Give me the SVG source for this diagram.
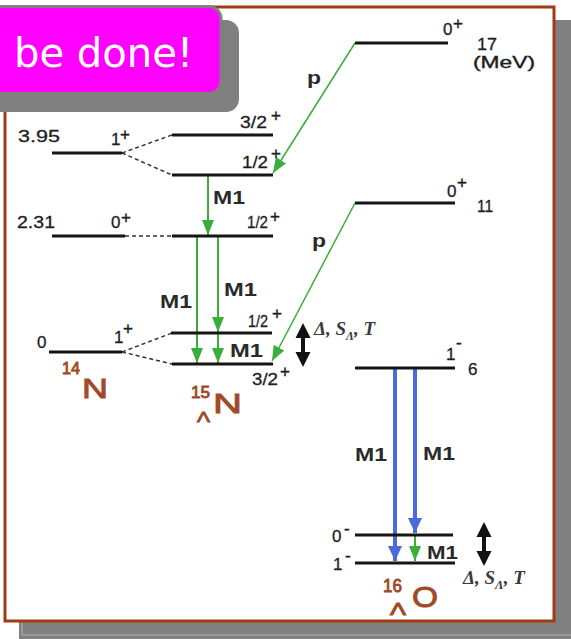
<svg xmlns="http://www.w3.org/2000/svg" width="571" height="639" viewBox="0 0 571 639">
<style>
.lv{stroke:#151515;stroke-width:3;fill:none}
.ds{stroke:#333;stroke-width:1.5;stroke-dasharray:4 3;fill:none}
.t{font-family:"Liberation Sans",Arial,sans-serif;font-size:17px;fill:#1e1e1e;stroke:#1e1e1e;stroke-width:0.3}
.sp{font-family:"Liberation Sans",Arial,sans-serif;font-size:17px;fill:#1e1e1e;stroke:#1e1e1e;stroke-width:0.4}
.m{font-family:"Liberation Sans",Arial,sans-serif;font-size:18px;font-weight:bold;fill:#2a2a2a}
.nuc{font-family:"Liberation Sans",Arial,sans-serif;fill:#a04a28;stroke:#a04a28;stroke-width:0.9}
.g{stroke:#3aad3a;stroke-width:2;fill:none}
.gp{stroke:#3aad3a;stroke-width:1.5;fill:none}
.b{stroke:#4b6bdc;stroke-width:4;fill:none}
.par{font-family:"Liberation Serif","Times New Roman",serif;font-style:italic;font-weight:bold;font-size:19px;fill:#3a3a3a}
</style>
<defs>
<marker id="ag" markerUnits="userSpaceOnUse" markerWidth="16" markerHeight="12" refX="15" refY="6" orient="auto">
<path d="M0,0 L15,6 L0,12 Z" fill="#3aad3a"/>
</marker>
<marker id="ab" markerUnits="userSpaceOnUse" markerWidth="16" markerHeight="14" refX="15" refY="7" orient="auto">
<path d="M0,0 L15,7 L0,14 Z" fill="#4b6bdc"/>
</marker>
<g id="dbl">
<path d="M0,0 L7.5,15 L-7.5,15 Z" fill="#111"/>
<rect x="-2" y="14" width="4" height="16" fill="#111"/>
<path d="M0,44 L7.5,29 L-7.5,29 Z" fill="#111"/>
</g>
</defs>

<!-- frame -->
<g id="frame">
<rect x="19" y="20" width="552" height="619" fill="#808080"/>
<polyline points="22,623 22,635 571,635" fill="none" stroke="#b4b4b4" stroke-width="1"/>
<rect x="5" y="7" width="549" height="614" fill="#ffffff" stroke="#a33b10" stroke-width="3"/>
</g>

<!-- connectors -->
<g id="connectors">
<line class="ds" x1="122" y1="153" x2="172" y2="135"/>
<line class="ds" x1="122" y1="153" x2="172" y2="175"/>
<line class="ds" x1="125" y1="236" x2="172" y2="236"/>
<line class="ds" x1="122" y1="352" x2="172" y2="333"/>
<line class="ds" x1="122" y1="352" x2="172" y2="364"/>
<line class="gp" x1="355" y1="43" x2="273" y2="173" marker-end="url(#ag)"/>
<line class="gp" x1="355" y1="203" x2="272" y2="361" marker-end="url(#ag)"/>
<line class="g" x1="208" y1="175" x2="208" y2="235" marker-end="url(#ag)"/>
<line class="g" x1="197" y1="236" x2="197" y2="363" marker-end="url(#ag)"/>
<line class="g" x1="218" y1="236" x2="218" y2="332" marker-end="url(#ag)"/>
<line class="g" x1="218" y1="334" x2="218" y2="363" marker-end="url(#ag)"/>
<line class="b" x1="395" y1="368" x2="395" y2="561" marker-end="url(#ab)"/>
<line class="b" x1="415" y1="368" x2="415" y2="533" marker-end="url(#ab)"/>
<line class="g" x1="415" y1="536" x2="415" y2="561" marker-end="url(#ag)"/>
<text class="m" x="213" y="204" textLength="32" lengthAdjust="spacingAndGlyphs">M1</text>
<text class="m" x="160" y="308" textLength="32" lengthAdjust="spacingAndGlyphs">M1</text>
<text class="m" x="224" y="296" textLength="33" lengthAdjust="spacingAndGlyphs">M1</text>
<text class="m" x="230" y="357" textLength="33" lengthAdjust="spacingAndGlyphs">M1</text>
<text class="m" x="355" y="461" textLength="32" lengthAdjust="spacingAndGlyphs">M1</text>
<text class="m" x="423" y="460" textLength="32" lengthAdjust="spacingAndGlyphs">M1</text>
<text class="m" x="427" y="559" textLength="31" lengthAdjust="spacingAndGlyphs">M1</text>
<text class="m" x="307" y="84" font-size="22" textLength="14" lengthAdjust="spacingAndGlyphs">p</text>
<text class="m" x="312" y="247" font-size="22" textLength="14" lengthAdjust="spacingAndGlyphs">p</text>
</g>

<!-- 14N -->
<g id="n14">
<line class="lv" x1="52" y1="153" x2="122" y2="153"/>
<line class="lv" x1="52" y1="236" x2="125" y2="236"/>
<line class="lv" x1="49" y1="352" x2="122" y2="352"/>
<text class="t" x="18" y="142" textLength="42" lengthAdjust="spacingAndGlyphs">3.95</text>
<text class="t" x="111" y="145">1</text><text class="sp" x="120" y="140">+</text>
<text class="t" x="17" y="228" textLength="38" lengthAdjust="spacingAndGlyphs">2.31</text>
<text class="t" x="111" y="228">0</text><text class="sp" x="121" y="223">+</text>
<text class="t" x="37" y="348">0</text>
<text class="t" x="114" y="343">1</text><text class="sp" x="123" y="334">+</text>
<text class="nuc" x="62" y="374" font-size="17" textLength="18" lengthAdjust="spacingAndGlyphs">14</text>
<text class="nuc" x="82" y="398" font-size="28" textLength="26" lengthAdjust="spacingAndGlyphs">N</text>
</g>

<!-- 15 Lambda N -->
<g id="n15L">
<line class="lv" x1="172" y1="135" x2="273" y2="135"/>
<line class="lv" x1="172" y1="175" x2="273" y2="175"/>
<line class="lv" x1="172" y1="236" x2="273" y2="236"/>
<line class="lv" x1="171" y1="333" x2="272" y2="333"/>
<line class="lv" x1="172" y1="364" x2="273" y2="364"/>
<text class="t" x="240" y="128" textLength="27" lengthAdjust="spacingAndGlyphs">3/2</text><text class="sp" x="271" y="121">+</text>
<text class="t" x="242" y="168" textLength="26" lengthAdjust="spacingAndGlyphs">1/2</text><text class="sp" x="271" y="159">+</text>
<text class="t" x="247" y="228" textLength="21" lengthAdjust="spacingAndGlyphs">1/2</text><text class="sp" x="270" y="222">+</text>
<text class="t" x="248" y="327" textLength="20" lengthAdjust="spacingAndGlyphs">1/2</text><text class="sp" x="272" y="319">+</text>
<text class="t" x="252" y="385" textLength="26" lengthAdjust="spacingAndGlyphs">3/2</text><text class="sp" x="280" y="377">+</text>
<text class="nuc" x="191" y="398" font-size="17" textLength="19" lengthAdjust="spacingAndGlyphs">15</text>
<text class="nuc" x="197" y="422" font-size="15" textLength="13" lengthAdjust="spacingAndGlyphs">Λ</text>
<text class="nuc" x="213" y="413" font-size="28" textLength="29" lengthAdjust="spacingAndGlyphs">N</text>
<use href="#dbl" x="303" y="323"/>
<text class="par" x="314" y="335">Δ, S<tspan font-size="12" dy="5">Λ</tspan><tspan dy="-5">, T</tspan></text>
</g>

<!-- upper resonance levels -->
<g id="lev17">
<line class="lv" x1="355" y1="43" x2="448" y2="43"/>
<text class="t" x="443" y="35">0</text><text class="sp" x="453" y="29">+</text>
<text class="t" x="477" y="50" textLength="20" lengthAdjust="spacingAndGlyphs">17</text>
<text class="sp" x="473" y="68" font-size="15" textLength="62" lengthAdjust="spacingAndGlyphs">(MeV)</text>
</g>
<g id="lev11">
<line class="lv" x1="355" y1="203" x2="455" y2="203"/>
<text class="t" x="447" y="197">0</text><text class="sp" x="457" y="188">+</text>
<text class="t" x="477" y="212" textLength="16" lengthAdjust="spacingAndGlyphs">11</text>
</g>

<!-- 16 Lambda O -->
<g id="o16L">
<line class="lv" x1="355" y1="368" x2="455" y2="368"/>
<line class="lv" x1="355" y1="535" x2="453" y2="535"/>
<line class="lv" x1="355" y1="563" x2="455" y2="563"/>
<text class="t" x="446" y="360">1</text><text class="sp" x="456" y="348">-</text>
<text class="t" x="468" y="375">6</text>
<text class="t" x="332" y="542">0</text><text class="sp" x="344" y="534">-</text>
<text class="t" x="333" y="570">1</text><text class="sp" x="345" y="561">-</text>
<use href="#dbl" x="484" y="522"/>
<text class="par" x="463" y="584" font-size="20">Δ, S<tspan font-size="13" dy="5">Λ</tspan><tspan dy="-5">, T</tspan></text>
<text class="nuc" x="383" y="592" font-size="18" textLength="19" lengthAdjust="spacingAndGlyphs">16</text>
<text class="nuc" x="390" y="615" font-size="16" textLength="16" lengthAdjust="spacingAndGlyphs">Λ</text>
<text class="nuc" x="412" y="607" font-size="30" textLength="26" lengthAdjust="spacingAndGlyphs">O</text>
</g>

<!-- callout -->
<g id="callout">
<rect x="-20" y="20" width="259" height="92" rx="13" fill="#808080"/>
<rect x="-20" y="6.5" width="241" height="87" rx="12" fill="#ff00ff" stroke="#808080" stroke-width="3"/>
<text x="14" y="67" font-family="'DejaVu Sans',sans-serif" font-size="40" fill="#ffffff" textLength="179" lengthAdjust="spacingAndGlyphs">be done!</text>
</g>
</svg>
